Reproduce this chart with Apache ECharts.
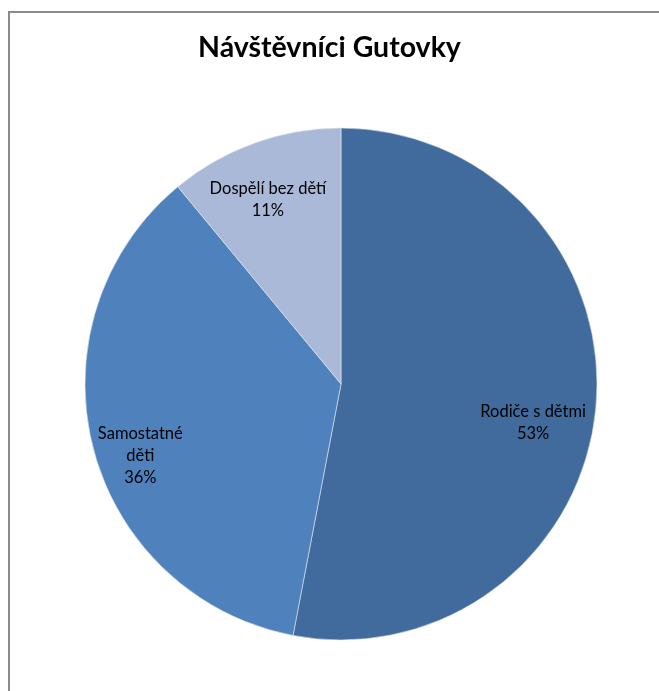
<!DOCTYPE html>
<html>
<head>
<meta charset="utf-8">
<script src="https://cdn.jsdelivr.net/npm/echarts@6/dist/echarts.min.js"></script>
<style>
  html, body { margin: 0; padding: 0; background: #fff; }
  #frame { position: absolute; left: 8px; top: 11px; width: 700px; height: 720px;
           border-left: 2px solid #8c8c8c; border-top: 2px solid #8c8c8c; }
  #chart { position: absolute; left: 0; top: 0; width: 659px; height: 691px; }
</style>
</head>
<body>
<div id="frame"></div>
<div id="chart"></div>
<script>
// Visitor groups and their shares (percent)
const categories = ['Rodiče s dětmi', 'Samostatné\nděti', 'Dospělí bez dětí'];
const shares = [53, 36, 11];
const colors = ['#416B9C', '#4F81BD', '#AAB9D7'];
// small nudges of each label block from its radial anchor
const labelNudge = [[-8, 20], [-6, 22], [-5, 5]];

const chart = echarts.init(document.getElementById('chart'));
const sliceData = categories.map((name, i) => ({
  name: name, value: shares[i], itemStyle: { color: colors[i] }
}));

const center = [341, 384];
const radius = 256;

chart.setOption({
  animation: false,
  title: {
    text: 'Návštěvníci Gutovky',
    left: 'center',
    top: 28,
    textStyle: { fontFamily: 'Lato', fontWeight: 'bold', fontSize: 28.5, color: '#000' }
  },
  series: [
    {
      type: 'pie',
      center: center,
      radius: [0, radius],
      startAngle: 90,
      clockwise: true,
      silent: true,
      label: { show: false },
      labelLine: { show: false },
      itemStyle: { borderColor: '#dfe6f0', borderWidth: 0.6 },
      data: sliceData
    },
    {
      // transparent ring carrying the in-slice labels further out from the centre
      type: 'pie',
      center: center,
      radius: [140, radius],
      startAngle: 90,
      clockwise: true,
      silent: true,
      itemStyle: { color: 'rgba(0,0,0,0)' },
      labelLine: { show: false },
      label: {
        show: true,
        position: 'inside',
        formatter: p => p.name + '\n' + p.value + '%',
        fontFamily: 'Lato',
        fontSize: 16.5,
        lineHeight: 22,
        color: '#000',
        align: 'center'
      },
      labelLayout: p => ({ dx: labelNudge[p.dataIndex][0], dy: labelNudge[p.dataIndex][1] }),
      data: categories.map((name, i) => ({ name: name, value: shares[i] }))
    }
  ]
});
</script>
</body>
</html>
